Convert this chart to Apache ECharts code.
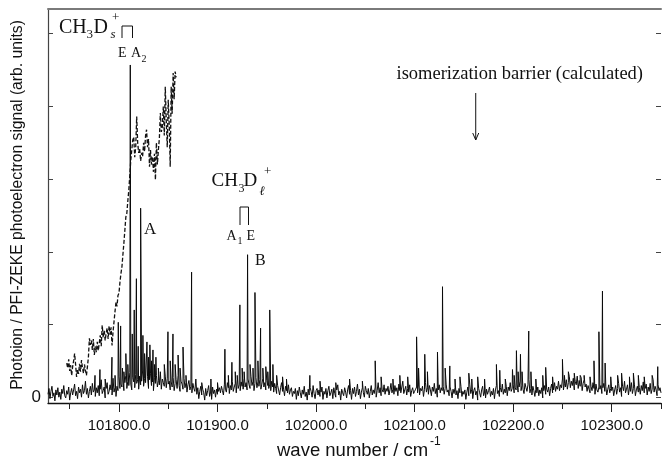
<!DOCTYPE html>
<html>
<head>
<meta charset="utf-8">
<script src="https://cdn.jsdelivr.net/npm/echarts@6/dist/echarts.min.js"></script>
<style>
  html, body { margin: 0; padding: 0; background: #fff; }
  #chart { width: 663px; height: 460px; }
</style>
</head>
<body>
<div id="chart"></div>
<script>
// Wave-number window of the scan (cm^-1) and signal range (arb. units)
const xMin = 101728;
const xMax = 102350;
const yMin = -8;
const yMax = 534;

// Tick positions
const majorTicks = [101800, 101900, 102000, 102100, 102200, 102300];
const minorTicks = [101750, 101850, 101950, 102050, 102150, 102250, 102350];
const yTicks = [0, 100, 200, 300, 400, 500];

// PFI-ZEKE baseline, one value per cm^-1 starting at xMin
const zekeBaseline = [
  4,12,-2,8,15,1,6,-5,10,3,13,0,7,-3,11,5,16,2,-1,9,4,14,-4,6,12,
  3,10,18,2,8,-2,14,6,11,0,17,5,9,22,4,12,-1,8,15,3,19,7,10,1,13,
  6,16,2,11,24,5,9,14,-1,12,20,4,8,17,10,3,26,7,13,1,15,9,28,12,18,
  14,25,9,20,30,12,22,16,34,18,10,27,21,13,31,19,24,11,29,17,22,36,15,26,20,
  18,28,12,24,33,16,21,9,27,19,30,14,23,17,32,11,25,20,15,29,13,26,18,22,10,
  21,14,27,9,19,24,12,30,16,8,22,18,11,26,13,20,7,17,23,10,15,6,19,12,8,
  10,4,13,-2,8,15,3,11,6,-4,12,2,9,16,1,7,-3,14,5,10,0,11,4,8,13,
  6,15,9,3,18,11,7,20,13,5,16,10,22,8,14,19,6,24,12,17,9,21,15,11,26,
  14,20,10,25,17,12,28,16,22,9,19,27,13,21,15,24,11,18,26,14,20,10,23,16,12,
  18,9,22,14,7,19,12,5,16,10,3,13,20,8,11,2,15,9,6,17,4,10,13,1,8,
  5,12,-3,9,2,14,6,-1,10,4,15,1,7,-4,11,3,13,8,0,16,5,-2,9,12,3,
  10,1,7,14,-3,8,4,12,-1,9,15,2,6,11,-2,13,5,0,10,17,3,8,-4,11,6,
  2,13,7,-1,10,16,4,9,-3,12,5,14,1,8,18,3,11,-2,7,13,6,0,15,9,4,
  12,-1,8,16,3,10,5,14,0,9,20,6,13,2,11,7,17,4,12,8,15,3,10,19,6,
  11,4,16,8,13,2,18,9,6,14,22,5,10,15,3,12,7,17,1,9,13,5,8,11,14,
  6,18,3,12,9,15,1,11,20,7,13,4,16,10,2,14,8,19,5,12,0,10,17,6,13,
  9,15,4,12,18,7,10,2,14,8,-1,11,5,13,3,9,-2,12,6,15,1,8,4,10,-3,
  7,14,2,17,5,11,-2,9,13,3,8,-4,12,6,0,10,15,2,7,-1,11,4,9,14,1,
  8,3,12,-2,10,16,5,9,1,13,7,18,4,11,6,15,2,14,9,20,8,12,17,6,13,
  10,18,7,14,22,9,16,11,5,19,13,8,17,24,6,12,3,15,9,1,11,6,14,2,10,
  5,13,-1,9,16,4,11,7,14,2,12,18,6,10,20,8,15,11,22,9,17,13,25,10,19,
  14,24,11,20,28,13,22,16,26,10,21,17,29,12,23,15,27,9,19,24,14,18,8,16,11,
  6,15,9,20,12,4,18,10,7,14,11,16,5,13,19,8,15,3,11,17,6,12,9,14,2,
  10,16,4,12,19,7,13,1,15,9,22,6,11,17,3,14,8,20,5,12,18,2,10,15,7,
  13,4,16,9,21,6,12,18,3,14,8,19,5,11,24,7,15,10,2,17,9,13,6
];

// Sharp PFI-ZEKE lines: positions (cm^-1) and peak heights
const lineWn = [
  101775.7,101780.7,101786,101792.9,101796,101799.3,101801.7,101803.5,101805,101807,
  101809,101811.5,101813.5,101815.5,101817.7,101819.5,101822,101824.3,101826,101828.4,
  101830,101831.4,101833,101834.5,101836,101837.5,101840,101842,101846,101849.7,
  101852,101854.8,101857,101860,101862,101865,101868,101873.7,101878,101884,
  101893.3,101900,101907.5,101911,101914.6,101918,101920,101922.7,101925,101927,
  101930.5,101933,101936,101938,101941,101943.7,101946,101949,101951,101953,
  101956.2,101960,101966,101970,101993.7,102004,102020,102034,102047,102060,
  102066,102078,102085,102093,102102,102104,102110.3,102113,102123.2,102128.3,
  102131,102135.7,102141,102146,102155,102158,102164,102171,102183,102186.4,
  102192,102199.3,102201,102203.3,102205,102207.4,102209,102215.8,102218,102223,
  102230,102233,102240,102250,102252,102256,102262,102268,102272,102278,
  102282,102287,102290.6,102293.3,102299,102306,102310,102318,102322,102327,
  102333,102341,102346.7
];
const lineHeight = [
  30,38,25,55,30,103,98,40,35,60,
  45,457,87,120,163,70,260,85,60,76,
  55,72,50,65,45,55,40,35,45,90,
  50,87,45,58,40,69,30,172,25,20,
  25,20,66,30,48,35,30,127,40,35,
  196,45,40,144,50,95,40,42,35,120,
  45,30,28,25,30,22,20,25,22,50,
  28,25,30,28,83,40,59,35,62,152,
  40,43,25,28,33,25,28,25,45,37,
  25,38,30,64,35,59,35,91,35,25,
  30,41,28,52,30,35,33,30,30,28,
  50,90,146,47,28,30,33,28,33,30,
  28,30,42
];

// Photoion signal (dashed), one value per cm^-1 from ionStart
const ionStart = 101747;
const ionSignal = [
  47,40,52,36,44,30,42,50,60,45,28,38,32,46,35,51,40,33,45,37,
  30,42,55,81,72,78,65,80,58,70,62,76,64,74,85,70,99,82,92,78,
  88,95,80,98,86,96,71,90,104,118,131,125,140,143,158,170,179,196,212,230,
  248,253,270,285,305,326,340,354,358,330,344,386,350,336,342,325,336,331,350,338,
  360,368,344,355,317,340,320,331,310,335,299,350,320,340,356,391,365,372,400,360,
  427,380,344,409,375,317,427,390,446,410,448,440
];

// Calculated isomerization barrier (cm^-1)
const barrierWn = 102162;

const SERIF = "'Liberation Serif', 'Times New Roman', serif";
const SANS = "'Liberation Sans', Arial, Helvetica, sans-serif";
const INK = '#111';

// merge baseline and line positions into one trace
const zekeData = zekeBaseline.map((v, i) => [xMin + i, v]);
lineWn.forEach((w, i) => zekeData.push([w, lineHeight[i]]));
zekeData.sort((a, b) => a[0] - b[0]);

const ionData = ionSignal.map((v, i) => [ionStart + i, v]);

const chart = echarts.init(document.getElementById('chart'), null, { renderer: 'canvas' });

const option = {
  animation: false,
  backgroundColor: '#fff',
  grid: { left: 48, right: 2, top: 9, bottom: 57, containLabel: false },
  xAxis: [
    {
      type: 'value', min: xMin, max: xMax, position: 'bottom',
      axisLine: { show: true, onZero: false, lineStyle: { color: '#111', width: 1.3 } },
      axisTick: { show: true, inside: false, length: 9, customValues: majorTicks, lineStyle: { color: '#222', width: 1 } },
      axisLabel: {
        show: true, customValues: majorTicks, margin: 15,
        formatter: v => v.toFixed(1),
        fontFamily: SANS, fontSize: 15, color: INK
      },
      splitLine: { show: false }
    },
    {
      type: 'value', min: xMin, max: xMax, position: 'bottom',
      axisLine: { show: false, onZero: false },
      axisTick: { show: true, inside: false, length: 6, customValues: minorTicks, lineStyle: { color: '#222', width: 1 } },
      axisLabel: { show: false },
      splitLine: { show: false }
    },
    {
      type: 'value', min: xMin, max: xMax, position: 'top',
      axisLine: { show: true, onZero: false, lineStyle: { color: '#7a7a7a', width: 2 } },
      axisTick: { show: false },
      axisLabel: { show: false },
      splitLine: { show: false }
    }
  ],
  yAxis: [
    {
      type: 'value', min: yMin, max: yMax, position: 'left',
      axisLine: { show: true, onZero: false, lineStyle: { color: '#444', width: 1.2 } },
      axisTick: { show: true, inside: true, length: 5, customValues: yTicks, lineStyle: { color: '#444', width: 1 } },
      axisLabel: {
        show: true, customValues: [0], margin: 7,
        formatter: v => String(v),
        fontFamily: SANS, fontSize: 17, color: INK
      },
      splitLine: { show: false }
    },
    {
      type: 'value', min: yMin, max: yMax, position: 'right',
      axisLine: { show: false, onZero: false },
      axisTick: { show: true, inside: true, length: 5, customValues: yTicks, lineStyle: { color: '#444', width: 1 } },
      axisLabel: { show: false },
      splitLine: { show: false }
    }
  ],
  series: [
    {
      name: 'PFI-ZEKE', type: 'line', xAxisIndex: 0, yAxisIndex: 0,
      data: zekeData, showSymbol: false, symbol: 'none',
      lineStyle: { color: '#0a0a0a', width: 1.0 },
      z: 3
    },
    {
      name: 'Photoion', type: 'line', xAxisIndex: 0, yAxisIndex: 0,
      data: ionData, showSymbol: false, symbol: 'none',
      lineStyle: { color: '#111', width: 1.3, type: [4, 2] },
      z: 4
    }
  ]
};
chart.setOption(option);

// text helper: left-aligned at a baseline
function txt(s, x, base, size, opts) {
  opts = opts || {};
  const family = opts.family || SERIF;
  const style = opts.italic ? 'italic ' : '';
  return {
    type: 'text', x: x, y: base, z: 20,
    style: {
      text: s, font: style + size + 'px ' + family, fill: INK,
      align: opts.align || 'left', verticalAlign: 'bottom'
    }
  };
}
// shift so the given y is the glyph baseline (box bottom sits below baseline by descent)
function at(s, x, base, size, opts) {
  return txt(s, x, base + size * 0.22, size, opts);
}
function line(x1, y1, x2, y2, w) {
  return { type: 'line', z: 20, shape: { x1, y1, x2, y2 }, style: { stroke: INK, lineWidth: w || 1 } };
}
function bracket(x1, x2, top, bottom) {
  return { type: 'polyline', z: 20, shape: { points: [[x1, bottom], [x1, top], [x2, top], [x2, bottom]] },
           style: { stroke: INK, lineWidth: 1, fill: null } };
}

const ax = chart.convertToPixel({ xAxisIndex: 0 }, barrierWn);

const graphics = [
  // CH3Ds+
  at('CH', 59, 33, 20), at('3', 86.5, 38.5, 13), at('D', 93.5, 33, 20),
  at('s', 110.5, 38.5, 13, { italic: true }), at('+', 112, 21.5, 13),
  bracket(122, 132.5, 26, 38),
  at('E', 118, 57.5, 14), at('A', 131, 57.5, 14), at('2', 141.5, 62.5, 10),
  at('A', 144, 234, 17),
  // CH3Dl+
  at('CH', 211.5, 186.5, 19), at('3', 238.5, 192.5, 12), at('D', 243.5, 186.5, 19),
  at('\u2113', 259.5, 195, 13, { italic: true }), at('+', 264, 175, 13),
  bracket(240, 248.5, 207, 225),
  at('A', 226.5, 240, 14), at('1', 237.5, 244.5, 10), at('E', 246.5, 240, 14),
  at('B', 255, 265, 16),
  // barrier annotation
  at('isomerization barrier (calculated)', 396.5, 79.5, 18.5),
  line(ax, 93, ax, 140, 1),
  { type: 'polyline', z: 20, shape: { points: [[ax - 3, 133], [ax, 140], [ax + 3, 133]] },
    style: { stroke: INK, lineWidth: 1, fill: null } },
  // axis titles
  {
    type: 'text', x: 18, y: 205, rotation: Math.PI / 2, z: 20,
    style: {
      text: 'Photoion / PFI-ZEKE photoelectron signal (arb. units)',
      font: '15.7px ' + SANS, fill: INK, align: 'center', verticalAlign: 'middle'
    }
  },
  at('wave number / cm', 277, 456.5, 18.5, { family: SANS }),
  at('-1', 430, 445, 12, { family: SANS })
];
chart.setOption({ graphic: graphics });
</script>
</body>
</html>
